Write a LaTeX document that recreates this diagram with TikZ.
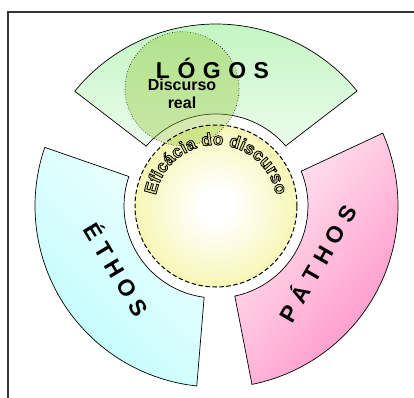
\documentclass[tikz,border=0pt]{standalone}
\usepackage{fontspec}
\setmainfont{Liberation Sans}
\usetikzlibrary{decorations.text}
\definecolor{logoA}{RGB}{192,245,192}
\definecolor{logoB}{RGB}{236,252,236}
\definecolor{ethoA}{RGB}{190,252,252}
\definecolor{ethoB}{RGB}{240,255,255}
\definecolor{pathA}{RGB}{255,145,198}
\definecolor{pathB}{RGB}{255,236,244}
\definecolor{yelC}{RGB}{240,240,120}
\definecolor{discC}{RGB}{150,200,60}
\definecolor{effC}{RGB}{225,225,140}
\pgfdeclareradialshading{yelrad}{\pgfpoint{0bp}{0bp}}{color(0bp)=(white); color(5bp)=(white); color(42bp)=(yelC); color(50bp)=(yelC)}
\newcommand{\outlinetext}{\special{pdf:literal direct 2 Tr 0.8 w 0 0 0 RG}}
\tikzset{
  sector/.style={draw=black,line width=0.7pt},
  biglbl/.style={font=\bfseries\fontsize{23}{23}\selectfont,inner sep=0pt},
  reallbl/.style={font=\bfseries\fontsize{16}{18.4}\selectfont,align=center,inner sep=0pt}
}
\begin{document}
\begin{tikzpicture}[x=1pt,y=1pt]
\useasboundingbox (0,0) rectangle (414,397);
\clip (0,0) rectangle (414,397);
\fill[white] (0,0) rectangle (414,397);
\draw[line width=2pt,black!80] (7.7,385) rectangle (440,-30);
\coordinate (C) at (216,191);
% sectors
\shadedraw[sector,shift={(216,191)},top color=logoA,bottom color=logoB]
  (39.2:182pt) arc[start angle=39.2,end angle=140.9,radius=182pt]
  -- (139.4:92pt) arc[start angle=139.4,end angle=40.8,radius=92pt] -- cycle;
\shadedraw[sector,shift={(216,191)},top color=ethoB,bottom color=ethoA,shading angle=-45]
  (161.1:181pt) arc[start angle=161.1,end angle=263.9,radius=181pt]
  -- (262.6:92pt) arc[start angle=262.6,end angle=161.3,radius=92pt] -- cycle;
\shadedraw[sector,shift={(216,191)},top color=pathB,bottom color=pathA,shading angle=50]
  (-78.6:182pt) arc[start angle=-78.6,end angle=23.6,radius=182pt]
  -- (22.2:92pt) arc[start angle=22.2,end angle=-78.2,radius=92pt] -- cycle;
% yellow circle
\shade[shading=yelrad] (C) circle[radius=81pt];
% discurso real circle
\fill[discC,opacity=0.4] (182,308.3) circle[radius=57pt];
\draw[dotted,line width=0.6pt] (182,308.3) circle[radius=57pt];
% dashed outline
\draw[line width=1pt,dash pattern=on 4.5pt off 2.5pt] (C) circle[radius=81pt];
% curved outlined text
\path[decorate,decoration={text along path,text align=center,
    text color=effC,text={|\outlinetext\bfseries\fontsize{17.5}{17.5}\selectfont|Eficácia do discurso}}]
    (C) ++(172:61pt) arc[start angle=172,end angle=8,radius=61pt];
% labels
\node[biglbl,anchor=base] (logos) at (212.5,318.7) {L\kern7.5pt Ó\kern7.5pt G\kern7.5pt O\kern7.5pt S};
\node[biglbl,rotate=-59] (ethos) at (117.5,128) {É\kern6pt T\kern6pt H\kern6pt O\kern6pt S};
\node[biglbl,rotate=60] (pathos) at (316.5,134.2) {P\kern7pt Á\kern7pt T\kern7pt H\kern7pt O\kern7pt S};
\node[reallbl] (real) at (182,303) {Discurso\\real};
\end{tikzpicture}
\end{document}
